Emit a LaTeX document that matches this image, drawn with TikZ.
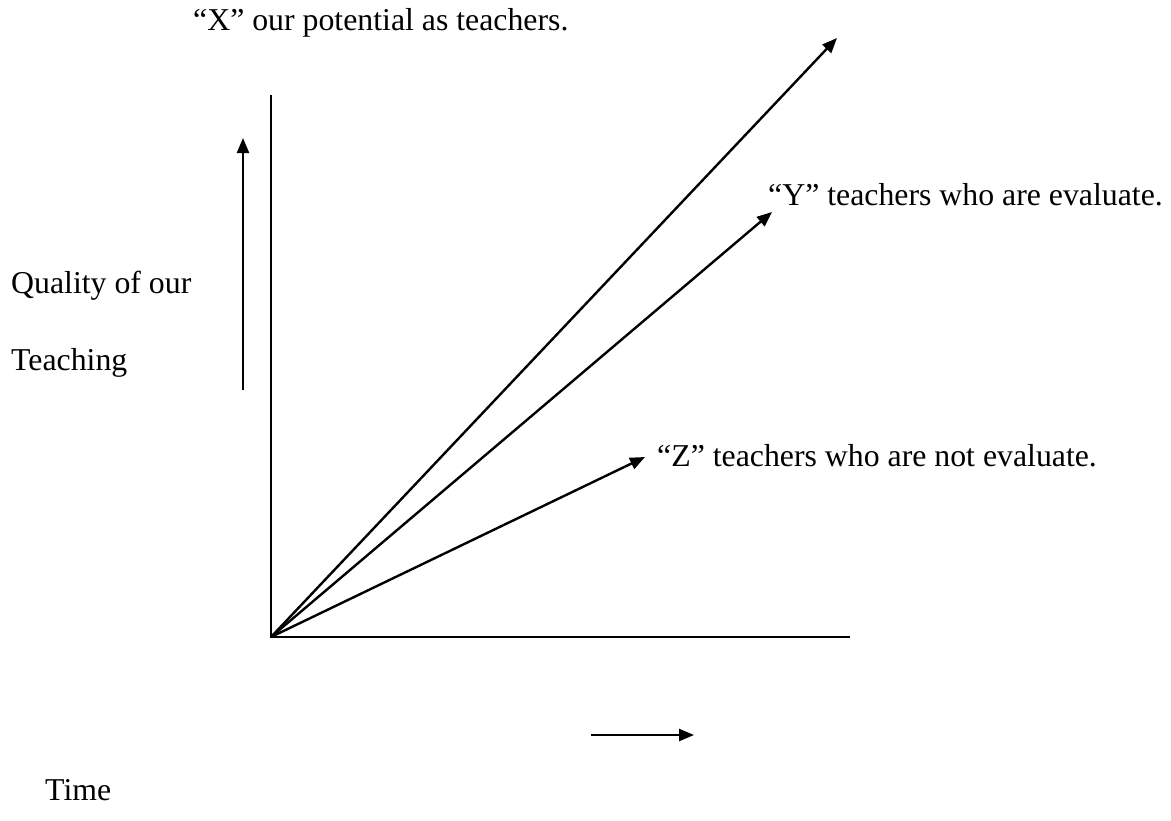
\documentclass[tikz,border=0pt]{standalone}
\usepackage{fontspec}
\setmainfont{Liberation Serif}
\usetikzlibrary{arrows.meta}
\begin{document}
\begin{tikzpicture}[x=1pt,y=-1pt,
  axis/.style={line width=2.4pt},
  arr/.style={line width=2.4pt,-{Triangle[length=15pt,width=12pt]}},
  lbl/.style={anchor=base west,inner sep=0pt,font=\fontsize{31.8}{38}\selectfont}]
\useasboundingbox (0,0) rectangle (1171,820);
\coordinate (O) at (271,637);
\coordinate (ytop) at (271,95);
\coordinate (xend) at (850,637);
\coordinate (Xtip) at (837,38);
\coordinate (Ytip) at (772,212);
\coordinate (Ztip) at (645,457);
\coordinate (qs) at (243,390);
\coordinate (qe) at (243,138);
\coordinate (ts) at (591,735);
\coordinate (te) at (694,735);
\draw[axis] (ytop) -- (O) -- (xend);
\draw[arr] (O) -- (Xtip);
\draw[arr] (O) -- (Ytip);
\draw[arr] (O) -- (Ztip);
\draw[arr] (qs) -- (qe);
\draw[arr] (ts) -- (te);
\node[lbl] (xl) at (193,30) {“X” our potential as teachers.};
\node[lbl] (yl) at (768,205) {“Y” teachers who are evaluate.};
\node[lbl] (zl) at (657,466) {“Z” teachers who are not evaluate.};
\node[lbl] (ql) at (11,293) {Quality of our};
\node[lbl] (tl) at (11,370) {Teaching};
\node[lbl] (tm) at (45,800) {Time};
\end{tikzpicture}
\end{document}
